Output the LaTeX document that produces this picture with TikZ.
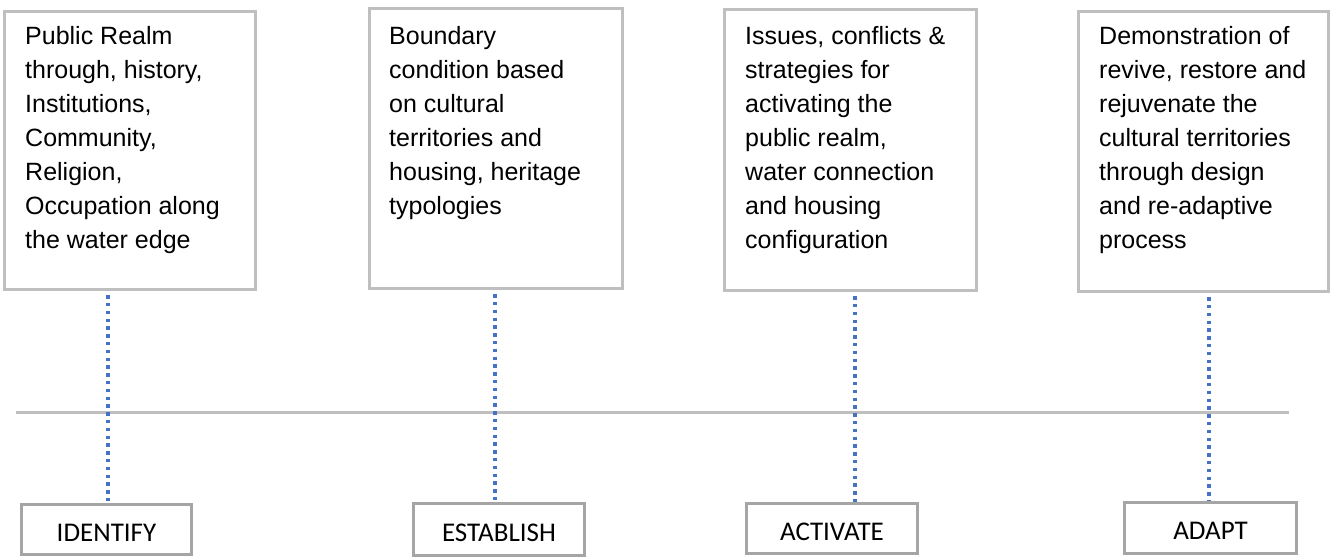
\documentclass[tikz,border=0pt]{standalone}
\usepackage{fontspec}
\setmainfont{Liberation Sans}
\newfontfamily\lblfont{Carlito}
\definecolor{boxgray}{HTML}{BFBFBF}
\definecolor{lblgray}{HTML}{A5A5A5}
\definecolor{dotblue}{HTML}{4472C4}
\begin{document}
\begin{tikzpicture}[x=1pt,y=-1pt,
  topbox/.style={draw=boxgray,line width=3.2pt,rectangle,inner sep=0pt,fill=white},
  toptext/.style={anchor=north west,inner sep=0pt,align=left,font=\fontsize{25pt}{34pt}\selectfont},
  lblbox/.style={draw=lblgray,line width=3.2pt,rectangle,inner sep=0pt,minimum height=50pt,
    font=\lblfont\fontsize{27pt}{30pt}\selectfont,text height=23pt,text depth=0pt},
  dotline/.style={draw=dotblue,line width=3.4pt,dash pattern=on 3.4pt off 4.4pt},
  axisline/.style={draw=boxgray,line width=3pt}]
\useasboundingbox (0,0) rectangle (1333,558);
% top boxes
\node[topbox,minimum width=251pt,minimum height=278pt] (b1) at (130,150.5) {};
\node[topbox,minimum width=253pt,minimum height=280pt] (b2) at (496,148.5) {};
\node[topbox,minimum width=252pt,minimum height=281pt] (b3) at (850.5,150) {};
\node[topbox,minimum width=250pt,minimum height=280pt] (b4) at (1203.5,151.5) {};
\node[toptext] (t1) at (25,26) {Public Realm\\through, history,\\Institutions,\\Community,\\Religion,\\Occupation along\\the water edge};
\node[toptext] (t2) at (389,26) {Boundary\\condition based\\on cultural\\territories and\\housing, heritage\\typologies};
\node[toptext] (t3) at (745,26) {Issues, conflicts \&\\strategies for\\activating the\\public realm,\\water connection\\and housing\\configuration};
\node[toptext] (t4) at (1099,26) {Demonstration of\\revive, restore and\\rejuvenate the\\cultural territories\\through design\\and re-adaptive\\process};
% axis line
\coordinate (h0) at (16,412);
\coordinate (h1) at (1289,412);
\draw[axisline] (h0) -- (h1);
% bottom labels
\node[lblbox,minimum width=170pt,minimum height=50pt] (l1) at (106.5,529.5) {IDENTIFY};
\node[lblbox,minimum width=171pt,minimum height=52pt] (l2) at (499,529.5) {ESTABLISH};
\node[lblbox,minimum width=171pt,minimum height=50pt] (l3) at (832,528.5) {ACTIVATE};
\node[lblbox,minimum width=172pt,minimum height=51pt] (l4) at (1210.5,528) {ADAPT};
% dotted connectors
\coordinate (d1) at (108,0);
\coordinate (d2) at (495,0);
\coordinate (d3) at (855,0);
\coordinate (d4) at (1209,0);
\draw[dotline] (d1 |- b1.south) ++(0,4) -- (d1 |- l1.north);
\draw[dotline] (d2 |- b2.south) ++(0,4) -- (d2 |- l2.north);
\draw[dotline] (d3 |- b3.south) ++(0,4) -- (d3 |- l3.north);
\draw[dotline] (d4 |- b4.south) ++(0,4) -- (d4 |- l4.north);
\end{tikzpicture}
\end{document}
